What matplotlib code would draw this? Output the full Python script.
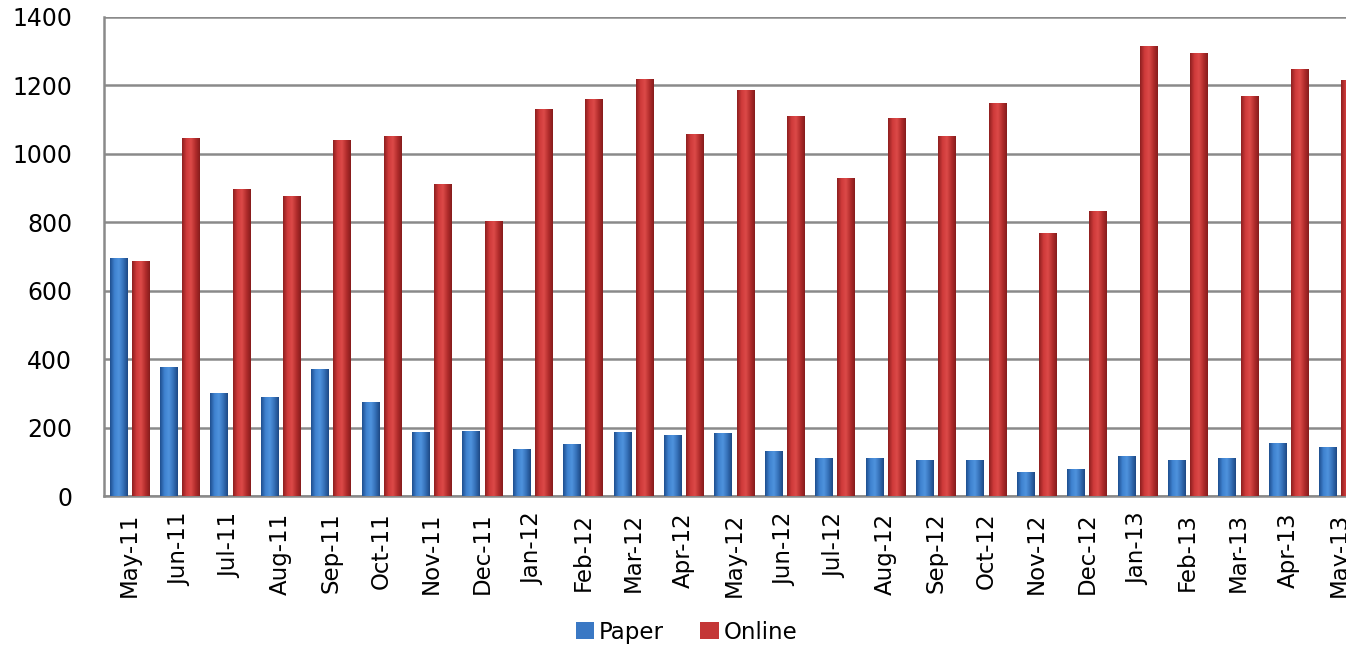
import matplotlib
matplotlib.use("Agg")
import matplotlib.pyplot as plt
import numpy as np
from matplotlib.colors import LinearSegmentedColormap

months = ["May-11", "Jun-11", "Jul-11", "Aug-11", "Sep-11", "Oct-11", "Nov-11", "Dec-11",
          "Jan-12", "Feb-12", "Mar-12", "Apr-12", "May-12", "Jun-12", "Jul-12", "Aug-12",
          "Sep-12", "Oct-12", "Nov-12", "Dec-12", "Jan-13", "Feb-13", "Mar-13", "Apr-13", "May-13"]
paper = [697, 377, 302, 289, 371, 275, 187, 191, 138, 152, 187, 178, 185,
         131, 112, 112, 105, 105, 71, 79, 118, 105, 112, 155, 144]
online = [688, 1047, 897, 877, 1041, 1053, 912, 804, 1132, 1160, 1220, 1058, 1187,
          1111, 929, 1106, 1051, 1150, 769, 834, 1316, 1296, 1170, 1249, 1216]

plt.rcParams['font.family'] = ['DejaVu Sans']

fig = plt.figure(figsize=(13.46, 6.49), dpi=100)
ax = fig.add_axes([104/1346, 1-496/649, 1260/1346, 479/649])

x = np.arange(len(months))
w = 0.34
off = 0.22

blue_cm = LinearSegmentedColormap.from_list("b", ["#1f4f8f", "#3f82d0", "#4f93dd", "#3570b8", "#1d4884"])
red_cm = LinearSegmentedColormap.from_list("r", ["#8e1f1f", "#cf3a3a", "#dc4a48", "#b32d2d", "#861c1c"])

bp = ax.bar(x - off, paper, w, color="#3a78c4", label="Paper", zorder=3, linewidth=0)
bo = ax.bar(x + off, online, w, color="#c43636", label="Online", zorder=3, linewidth=0)

# horizontal shading inside every bar
grad = np.linspace(0, 1, 64).reshape(1, -1)
for bars, cm in ((bp, blue_cm), (bo, red_cm)):
    for p in bars:
        x0, y0 = p.get_x(), p.get_y()
        im = ax.imshow(grad, cmap=cm, aspect="auto", zorder=4,
                       extent=[x0, x0 + p.get_width(), y0, y0 + p.get_height()])
        im.set_clip_path(p)

ax.set_xlim(-0.5, len(months) - 0.5)
ax.set_ylim(0, 1400)
ax.set_yticks(np.arange(0, 1401, 200))
ax.set_xticks(x)
ax.set_xticklabels(months, rotation=90, fontsize=16.5)
ax.tick_params(axis='y', labelsize=17, length=0, pad=23)
ax.tick_params(axis='x', length=0, pad=12)
ax.grid(axis='y', color="#8a8a8a", linewidth=1.8, zorder=0)
for s in ("top", "right"):
    ax.spines[s].set_visible(False)
for s in ("left", "bottom"):
    ax.spines[s].set_color("#8a8a8a")
    ax.spines[s].set_linewidth(1.8)

fig.legend(handles=[bp, bo], labels=["Paper", "Online"], loc="center",
           bbox_to_anchor=(0.51, 0.026), ncol=2, frameon=False, fontsize=16.5,
           handlelength=0.8, handleheight=0.8, handletextpad=0.2, columnspacing=1.6)

fig.savefig("out.png", dpi=100)
